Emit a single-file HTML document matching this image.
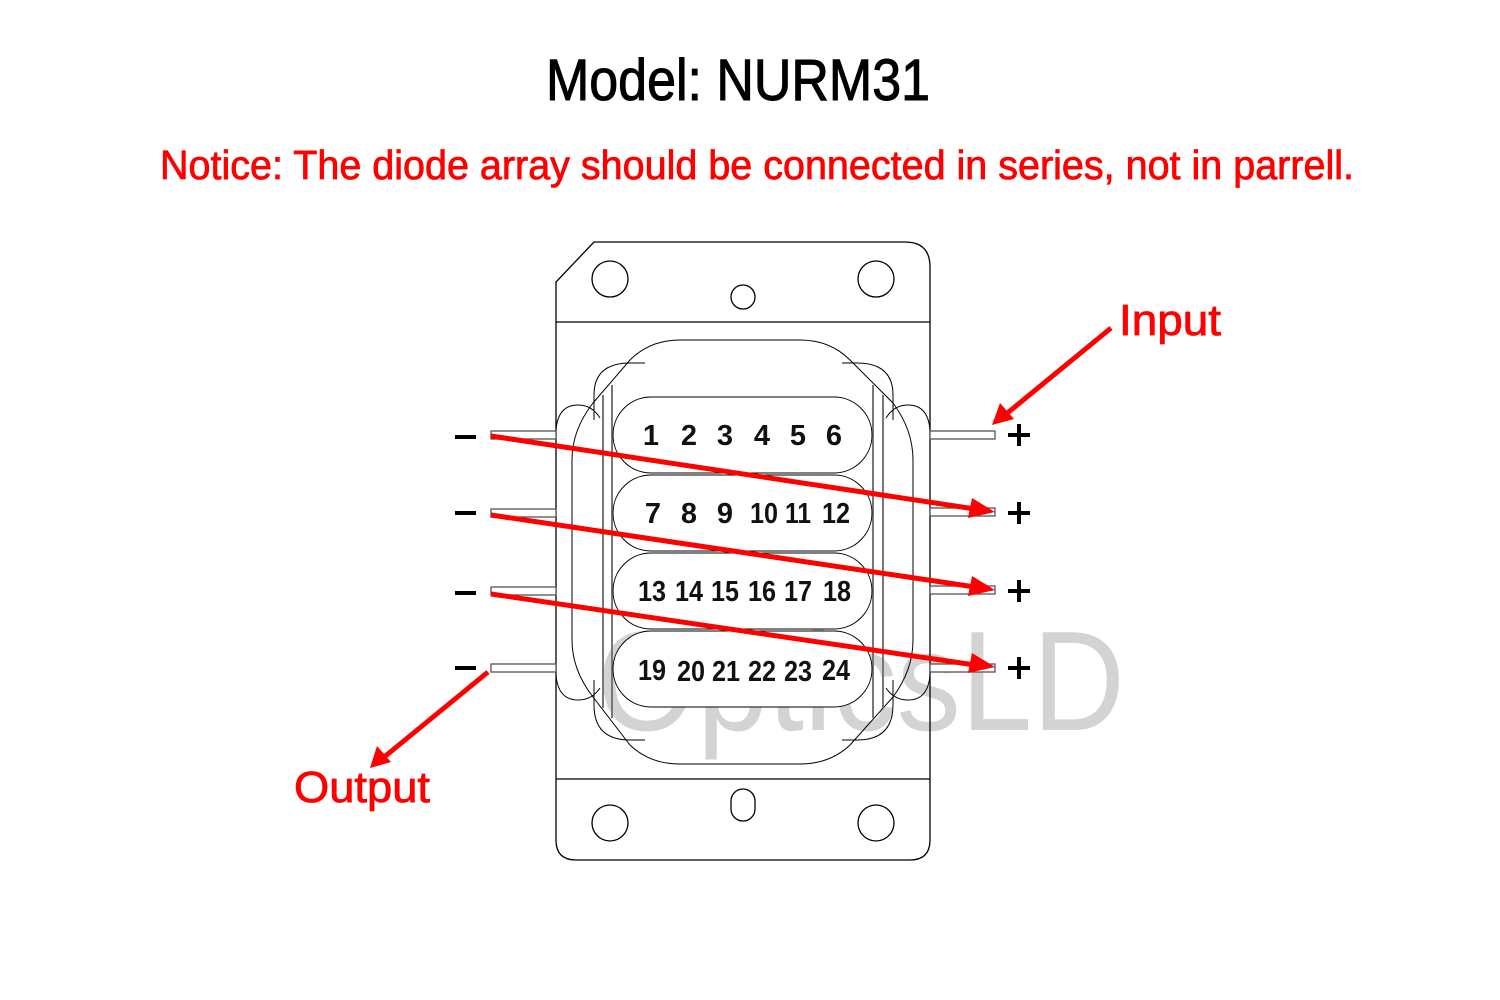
<!DOCTYPE html>
<html><head><meta charset="utf-8"><style>html,body{margin:0;padding:0;background:#fff}svg{display:block}</style></head>
<body>
<svg width="1500" height="1000" viewBox="0 0 1500 1000" xmlns="http://www.w3.org/2000/svg" font-family="Liberation Sans, sans-serif">
<rect width="1500" height="1000" fill="#fff"/>
<text x="546" y="100" font-size="58" textLength="384" lengthAdjust="spacingAndGlyphs" fill="#000" stroke="#000" stroke-width="1">Model: NURM31</text>
<text x="160" y="179" font-size="41" textLength="1194" lengthAdjust="spacingAndGlyphs" fill="#ff0000" stroke="#ff0000" stroke-width="0.8">Notice: The diode array should be connected in series, not in parrell.</text>

<!-- watermark -->
<text x="597" y="730" font-size="142" textLength="528" lengthAdjust="spacingAndGlyphs" fill="#d3d3d3">OpticsLD</text>

<g fill="none" stroke="#000" stroke-width="1.3">
<!-- body -->
<path d="M594,242 H905 Q930,242 930,267 V840 Q930,860 910,860 H576 Q556,860 556,840 V282 Z"/>
<line x1="556" y1="322" x2="930" y2="322"/>
<line x1="556" y1="779" x2="930" y2="779"/>
<circle cx="610" cy="279" r="18"/><circle cx="876" cy="279" r="18"/><circle cx="743" cy="297" r="12"/>
<circle cx="610" cy="823" r="18"/><circle cx="876" cy="823" r="18"/>
<rect x="731" y="789" width="24" height="32" rx="12"/>
</g>
<g fill="none" stroke="#000" stroke-width="1">
<!-- inner lobes -->
<path d="M594,420 V395 Q594,363 630,363 H645"/>
<path d="M893,420 V395 Q893,363 857,363 H842"/>
<path d="M594,680 V705 Q594,740 630,740 H645"/>
<path d="M893,680 V705 Q893,740 857,740 H842"/>
<path d="M556,430 Q558,405 578,405 Q592,405 600,418"/>
<path d="M930,430 Q928,405 908,405 Q894,405 886,418"/>
<path d="M556,675 Q558,700 578,700 Q592,700 600,688"/>
<path d="M930,675 Q928,700 908,700 Q894,700 886,688"/>
<!-- inner shape -->
<path d="M680,340 H800 Q830,340 850,360 L893,403 Q913,430 913,460 V640 Q913,670 893,697 L850,745 Q830,764 800,764 H680 Q650,764 630,745 L593,697 Q572,670 572,640 V460 Q572,430 593,403 L630,360 Q650,340 680,340 Z" fill="#fff" fill-opacity="0"/>
</g>
<g stroke="#777" stroke-width="2">
<line x1="603" y1="395" x2="603" y2="708"/><line x1="612" y1="385" x2="612" y2="718"/>
<line x1="873" y1="385" x2="873" y2="718"/><line x1="883" y1="395" x2="883" y2="708"/>
</g>
<!-- pills -->
<g fill="#fff" stroke="#000" stroke-width="1">
<rect x="613" y="397" width="259" height="76" rx="38"/>
<rect x="613" y="475" width="259" height="76" rx="38"/>
<rect x="613" y="553" width="259" height="76" rx="38"/>
<rect x="613" y="631" width="259" height="76" rx="38"/>
</g>
<g font-size="29" font-weight="bold" fill="#111" text-anchor="middle">
<text x="651" y="445">1</text><text x="689" y="445">2</text><text x="725" y="445">3</text><text x="762" y="445">4</text><text x="798" y="445">5</text><text x="834" y="445">6</text>
<text x="653" y="523">7</text><text x="689" y="523">8</text><text x="725" y="523">9</text><text x="764" y="523" textLength="28" lengthAdjust="spacingAndGlyphs">10</text><text x="798" y="523" textLength="26" lengthAdjust="spacingAndGlyphs">11</text><text x="836" y="523" textLength="28" lengthAdjust="spacingAndGlyphs">12</text>
<text x="652" y="601" textLength="28" lengthAdjust="spacingAndGlyphs">13</text><text x="689" y="601" textLength="28" lengthAdjust="spacingAndGlyphs">14</text><text x="725" y="601" textLength="28" lengthAdjust="spacingAndGlyphs">15</text><text x="762" y="601" textLength="28" lengthAdjust="spacingAndGlyphs">16</text><text x="798" y="601" textLength="28" lengthAdjust="spacingAndGlyphs">17</text><text x="837" y="601" textLength="28" lengthAdjust="spacingAndGlyphs">18</text>
<text x="652" y="680" textLength="28" lengthAdjust="spacingAndGlyphs">19</text><text x="691" y="681" textLength="28" lengthAdjust="spacingAndGlyphs">20</text><text x="726" y="681" textLength="28" lengthAdjust="spacingAndGlyphs">21</text><text x="762" y="681" textLength="28" lengthAdjust="spacingAndGlyphs">22</text><text x="798" y="681" textLength="28" lengthAdjust="spacingAndGlyphs">23</text><text x="836" y="680" textLength="28" lengthAdjust="spacingAndGlyphs">24</text>
</g>
<!-- pins -->
<g fill="#fff" stroke="#555" stroke-width="1.3">
<rect x="491" y="431" width="65" height="8"/><rect x="491" y="509" width="65" height="8"/><rect x="491" y="587" width="65" height="8"/><rect x="491" y="664" width="65" height="8"/>
<rect x="930" y="431" width="65" height="8"/><rect x="930" y="508" width="65" height="8"/><rect x="930" y="586" width="65" height="8"/><rect x="930" y="664" width="65" height="8"/>
</g>
<g stroke="#000" stroke-width="4">
<line x1="455" y1="437" x2="476" y2="437"/><line x1="455" y1="513" x2="476" y2="513"/><line x1="455" y1="593" x2="476" y2="593"/><line x1="455" y1="668" x2="476" y2="668"/>
<line x1="1008" y1="435" x2="1030" y2="435"/><line x1="1019" y1="424" x2="1019" y2="446"/>
<line x1="1008" y1="513" x2="1030" y2="513"/><line x1="1019" y1="502" x2="1019" y2="524"/>
<line x1="1008" y1="591" x2="1030" y2="591"/><line x1="1019" y1="580" x2="1019" y2="602"/>
<line x1="1008" y1="668" x2="1030" y2="668"/><line x1="1019" y1="657" x2="1019" y2="679"/>
</g>
<!-- red arrows -->
<g stroke="#ff0000" stroke-width="5" fill="#ff0000">
<line x1="491" y1="436" x2="975" y2="509"/>
<line x1="491" y1="515" x2="975" y2="587"/>
<line x1="491" y1="594" x2="975" y2="665"/>
<line x1="1111" y1="328" x2="1005" y2="415"/>
<line x1="488" y1="672" x2="383" y2="758"/>
</g>
<g fill="#ff0000">
<polygon points="995,512 972,498 968,518"/>
<polygon points="995,590 972,576 968,596"/>
<polygon points="995,667 972,653 968,673"/>
<polygon points="992,425 1000,403 1014,419"/>
<polygon points="370,768 377,746 391,762"/>
</g>
<text x="1119" y="335" font-size="44" textLength="102" lengthAdjust="spacingAndGlyphs" fill="#ff0000" stroke="#ff0000" stroke-width="0.8">Input</text>
<text x="294" y="802" font-size="44" textLength="136" lengthAdjust="spacingAndGlyphs" fill="#ff0000" stroke="#ff0000" stroke-width="0.8">Output</text>
</svg>
</body></html>
